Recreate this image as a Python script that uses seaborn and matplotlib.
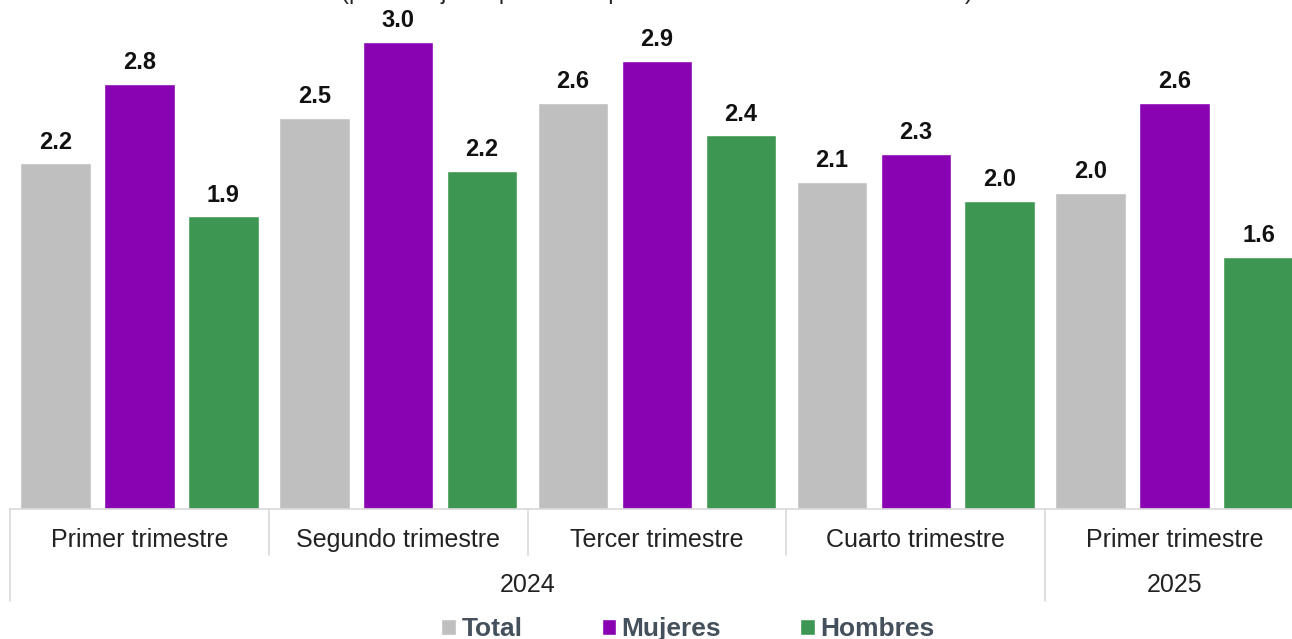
import pandas as pd
import matplotlib.pyplot as plt
import matplotlib.transforms as mtransforms
from matplotlib.patches import Patch
import seaborn as sns

# Data (heights, labels as printed on the chart)
quarters = ['Primer trimestre', 'Segundo trimestre', 'Tercer trimestre',
            'Cuarto trimestre', 'Primer trimestre ']
years = ['2024', '2025']
year_spans = [(0, 4), (4, 5)]
series = ['Total', 'Mujeres', 'Hombres']
total = [2.22, 2.51, 2.61, 2.10, 2.03]
mujeres = [2.73, 3.00, 2.88, 2.28, 2.61]
hombres = [1.88, 2.17, 2.40, 1.98, 1.62]
total_lbl = ['2.2', '2.5', '2.6', '2.1', '2.0']
mujeres_lbl = ['2.8', '3.0', '2.9', '2.3', '2.6']
hombres_lbl = ['1.9', '2.2', '2.4', '2.0', '1.6']
colors = ['#BFBFBF', '#8A03B3', '#3D9651']
subtitle = '(porcentaje respecto a la población económicamente activa)'

rows = []
for i, q in enumerate(quarters):
    rows.append({'Trimestre': q, 'Serie': 'Total', 'Valor': total[i]})
    rows.append({'Trimestre': q, 'Serie': 'Mujeres', 'Valor': mujeres[i]})
    rows.append({'Trimestre': q, 'Serie': 'Hombres', 'Valor': hombres[i]})
df = pd.DataFrame(rows)

sns.set_style('white')
plt.rcParams['font.family'] = ['Liberation Sans', 'DejaVu Sans']

W, H = 1292, 639
fig = plt.figure(figsize=(W / 100, H / 100), dpi=100)
# axes runs past the right edge, like the original crop
ax = fig.add_axes([10 / W, 1 - 509 / H, 1294 / W, 509 / H])

sns.barplot(data=df, x='Trimestre', y='Valor', hue='Serie', order=quarters,
            hue_order=series, palette=colors, width=0.973, gap=0.16,
            saturation=1, legend=False, ax=ax)

ax.set_xlim(-0.5, 4.5)
ax.set_ylim(0, 509 / 155.7)
ax.set_xlabel('')
ax.set_ylabel('')
ax.set_yticks([])
ax.set_xticks([])
for s in ['left', 'right', 'top']:
    ax.spines[s].set_visible(False)
ax.spines['bottom'].set_color('#D9D9D9')
ax.spines['bottom'].set_linewidth(1.2)

for cont, lbls in zip(ax.containers, [total_lbl, mujeres_lbl, hombres_lbl]):
    ax.bar_label(cont, labels=lbls, padding=7, fontsize=17, fontweight='bold',
                 color='#111111')

# category axis with two levels
trans = mtransforms.blended_transform_factory(ax.transData, ax.transAxes)
for i, q in enumerate(quarters):
    ax.text(i, -31 / 509, q.strip(), transform=trans, ha='center', va='center',
            fontsize=18, color='#222222')
for b in range(1, 4):
    ax.plot([b - 0.5, b - 0.5], [0, -46 / 509], transform=trans, color='#D9D9D9',
            lw=1.2, clip_on=False)
for (a, b), y in zip(year_spans, years):
    ax.text((a + b - 1) / 2, -76 / 509, y, transform=trans, ha='center',
            va='center', fontsize=18, color='#222222')
    ax.plot([a - 0.5, a - 0.5], [0, -92 / 509], transform=trans, color='#D9D9D9',
            lw=1.2, clip_on=False)

# subtitle, mostly cut off at the top like the source image
fig.text(657 / W, 1 + 1 / H, subtitle, ha='center', va='baseline', fontsize=17,
         color='#222222')

handles = [Patch(facecolor=c, label=s) for c, s in zip(colors, series)]
leg = fig.legend(handles=handles, loc='center', bbox_to_anchor=(688 / W, 1 - 629 / H),
                 ncol=3, frameon=False, handlelength=0.56, handleheight=0.56,
                 handletextpad=0.2, columnspacing=3.0,
                 prop={'size': 19, 'weight': 'bold'})
for t in leg.get_texts():
    t.set_color('#44505C')

fig.savefig('out.png', dpi=100)
